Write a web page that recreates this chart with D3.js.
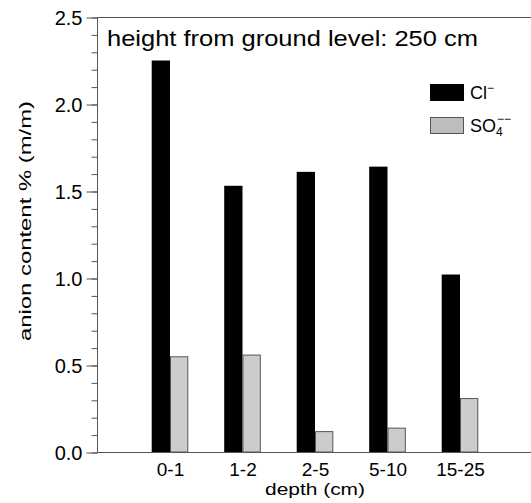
<!DOCTYPE html>
<html>
<head>
<meta charset="utf-8">
<script src="https://cdn.jsdelivr.net/npm/d3@7"></script>
<style>
  body { margin: 0; background: #fff; }
  svg text { font-family: "Liberation Sans", Arial, sans-serif; fill: #000; }
</style>
</head>
<body>
<svg id="chart" width="531" height="503"></svg>
<script>
const depths = ['0-1', '1-2', '2-5', '5-10', '15-25'];
const chloride = [2.25, 1.53, 1.61, 1.64, 1.02];
const sulfate = [0.55, 0.56, 0.12, 0.14, 0.31];
const majorTicks = [0, 0.5, 1.0, 1.5, 2.0, 2.5];
const minorTicks = d3.range(0, 26).map(i => i / 10);

const svg = d3.select('#chart');
const mLeft = 97, mRight = 531, mTop = 17, mBottom = 452;

const y = d3.scaleLinear().domain([0, 2.5]).range([mBottom, mTop]);
const x = d3.scalePoint().domain(depths).range([mLeft + 0.5, mRight + 1.5]).padding(1);
const barW = 18.3;

const rows = depths.map((d, i) => ({depth: d, cl: chloride[i], so4: sulfate[i]}));

// bars
svg.append('g').selectAll('rect')
  .data(rows).enter().append('rect')
  .attr('x', d => x(d.depth) - barW)
  .attr('y', d => y(d.cl))
  .attr('width', barW)
  .attr('height', d => mBottom - y(d.cl))
  .attr('fill', '#000');

svg.append('g').selectAll('rect')
  .data(rows).enter().append('rect')
  .attr('x', d => x(d.depth) + 0.5)
  .attr('y', d => y(d.so4) + 0.5)
  .attr('width', barW - 1)
  .attr('height', d => mBottom - y(d.so4) - 0.5)
  .attr('fill', '#cccccc')
  .attr('stroke', '#555')
  .attr('stroke-width', 1);

// frame lines
svg.append('line').attr('x1', mLeft).attr('x2', mRight).attr('y1', mTop + 0.5).attr('y2', mTop + 0.5)
  .attr('stroke', '#555');
svg.append('line').attr('x1', mLeft).attr('x2', mRight).attr('y1', mBottom + 0.5).attr('y2', mBottom + 0.5)
  .attr('stroke', '#555');

// y axis, minor ticks then major ticks with labels
const gMinor = svg.append('g').attr('transform', `translate(${mLeft + 0.5},0.5)`)
  .call(d3.axisLeft(y).tickValues(minorTicks).tickSize(6).tickFormat(''));
gMinor.select('.domain').remove();

const gMajor = svg.append('g').attr('transform', `translate(${mLeft + 0.5},0.5)`)
  .call(d3.axisLeft(y).tickValues(majorTicks).tickSize(11).tickPadding(4).tickFormat(d3.format('.1f')));
gMajor.selectAll('.tick text').attr('font-size', 20).attr('dy', '0.36em');
gMajor.select('.domain').attr('d', `M0,${mTop}V${mBottom}`);
svg.selectAll('.domain, .tick line').attr('stroke', '#555');

// x axis labels
const gx = svg.append('g').attr('transform', `translate(0,${mBottom})`)
  .call(d3.axisBottom(x).tickSize(0).tickPadding(11));
gx.select('.domain').remove();
gx.selectAll('.tick text').attr('font-size', 19).attr('dy', '0.71em');

// axis titles (the reference lettering is wide, so stretch to its measured length)
svg.append('text')
  .attr('x', 315).attr('y', 495)
  .attr('text-anchor', 'middle')
  .attr('font-size', 16)
  .attr('textLength', 100)
  .attr('lengthAdjust', 'spacingAndGlyphs')
  .text('depth (cm)');

svg.append('text')
  .attr('transform', 'translate(31,221) rotate(-90)')
  .attr('text-anchor', 'middle')
  .attr('font-size', 17)
  .attr('textLength', 240)
  .attr('lengthAdjust', 'spacingAndGlyphs')
  .text('anion content % (m/m)');

// header
svg.append('text')
  .attr('x', 107).attr('y', 46)
  .attr('font-size', 22)
  .attr('textLength', 371)
  .attr('lengthAdjust', 'spacingAndGlyphs')
  .text('height from ground level: 250 cm');

// legend
svg.append('rect').attr('x', 430).attr('y', 84).attr('width', 34).attr('height', 17).attr('fill', '#000');
svg.append('rect').attr('x', 430.5).attr('y', 117.5).attr('width', 33).attr('height', 16)
  .attr('fill', '#bdbdbd').attr('stroke', '#555');

const t1 = svg.append('text').attr('x', 470).attr('y', 99).attr('font-size', 18);
t1.append('tspan').text('Cl');
t1.append('tspan').attr('dy', -7).attr('font-size', 12).text('−');

const t2 = svg.append('text').attr('x', 470).attr('y', 132).attr('font-size', 18);
t2.append('tspan').text('SO');
t2.append('tspan').attr('dy', 4).attr('font-size', 12).text('4');
svg.append('text').attr('x', 497).attr('y', 123).attr('font-size', 12).text('−−');
</script>
</body>
</html>
